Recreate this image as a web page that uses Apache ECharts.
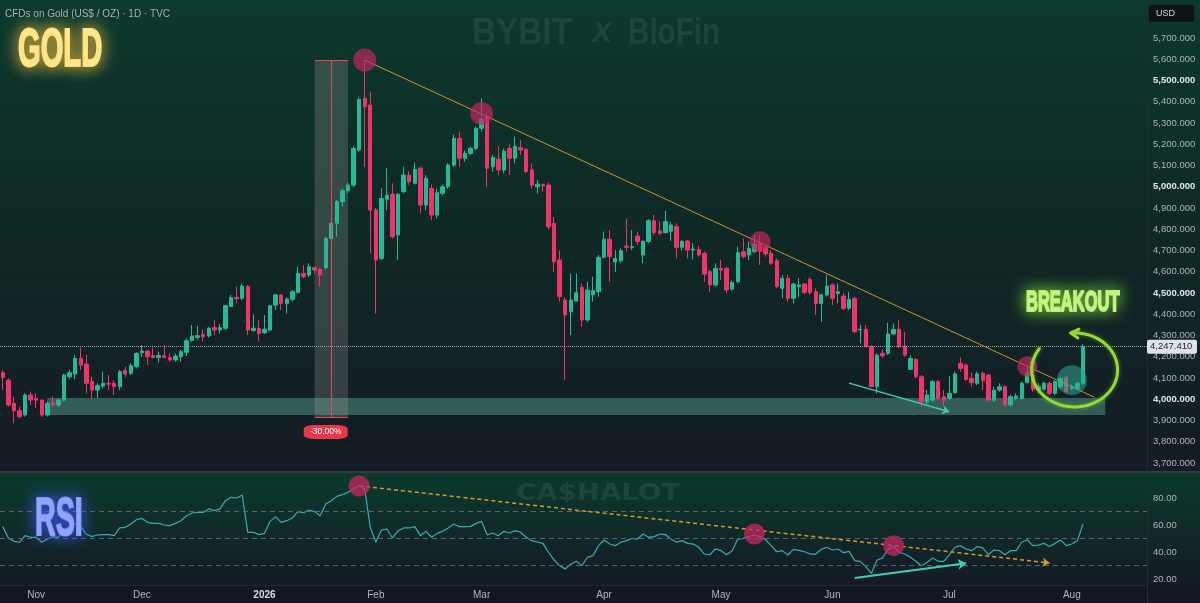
<!DOCTYPE html>
<html><head><meta charset="utf-8">
<script src="https://cdn.jsdelivr.net/npm/echarts@6/dist/echarts.min.js"></script>
<style>html,body{margin:0;padding:0;background:#131722;overflow:hidden}#c{width:1200px;height:603px}</style>
</head><body><div id="c"></div>
<script>
// ---- trading calendar (categories) ----
const holidays = ['2025-11-27','2025-12-25','2026-01-01','2026-01-19','2026-02-16','2026-04-03','2026-05-25','2026-06-19','2026-07-03'];
const startDate = '2025-10-24';
const categoryCount = 206;
const monthNames = ['Jan','Feb','Mar','Apr','May','Jun','Jul','Aug','Sep','Oct','Nov','Dec'];

// ---- OHLC (USD/oz), one value per trading day ----
const openP = [4125,4090,3981,3946,3926,4020,4004,3996,3926,3984,
3973,3996,4106,4119,4193,4166,4083,4043,4062,4075,
4075,4059,4135,4122,4153,4219,4227,4205,4196,4205,
4197,4185,4200,4221,4276,4291,4305,4298,4337,4326,
4334,4436,4479,4475,4530,4323,4334,4313,4326,4443,
4491,4451,4470,4503,4592,4585,4619,4611,4620,4757,
4828,4930,4981,5008,5173,5416,5385,4891,4663,4941,
4965,4773,4977,5055,5016,5087,4914,4992,4867,4969,
5000,5102,5228,5134,5157,5180,5275,5330,5094,5130,
5079,5180,5134,5184,5176,5079,5000,5010,5008,4828,
4655,4467,4412,4462,4527,4373,4491,4506,4668,4753,
4647,4652,4721,4715,4768,4679,4742,4840,4792,4784,
4790,4812,4715,4745,4702,4705,4687,4600,4538,4616,
4616,4519,4553,4694,4679,4695,4734,4713,4687,4652,
4522,4569,4475,4530,4542,4564,4506,4451,4491,4538,
4498,4486,4428,4475,4326,4329,4247,4059,4216,4216,
4307,4329,4250,4141,4188,4106,3988,3996,4083,4012,
4004,4031,4169,4161,4098,4075,4122,4114,3996,4043,
4059,3973,4004,4004,4078,4114,4043,4047,4075,4028,
4059,4101,4051,4051,4075];
const closeP = [4103,3973,3946,3918,4020,3996,3996,3926,3981,3973,
3996,4114,4125,4193,4161,4075,4043,4064,4075,4071,
4059,4130,4119,4158,4216,4227,4200,4196,4206,4196,
4185,4203,4224,4276,4298,4299,4294,4334,4326,4337,
4440,4479,4473,4533,4326,4334,4310,4329,4440,4491,
4451,4472,4506,4593,4577,4624,4608,4585,4757,4828,
4930,4981,5008,5180,5411,5377,4891,4655,4945,4961,
4765,4965,5055,5024,5082,4914,5040,4867,4972,5000,
5102,5228,5134,5157,5180,5275,5319,5087,5138,5079,
5168,5134,5190,5173,5071,5008,5012,5004,4812,4647,
4483,4397,4467,4501,4373,4514,4511,4668,4753,4671,
4663,4699,4715,4718,4742,4742,4840,4784,4781,4836,
4820,4715,4742,4702,4707,4679,4589,4538,4616,4608,
4514,4550,4690,4671,4710,4730,4695,4684,4640,4530,
4569,4475,4542,4538,4502,4502,4451,4491,4533,4475,
4506,4428,4470,4318,4329,4247,4059,4208,4204,4307,
4329,4247,4208,4192,4106,3988,4020,4083,4004,3996,
4028,4119,4145,4094,4078,4119,4087,3996,4043,4059,
3973,4012,4015,4075,4125,4047,4059,4075,4028,4083,
4098,4036,4059,4075,4247.41];
const lowP = [4043,3965,3887,3910,3918,3973,3957,3918,3918,3965,
3965,3990,4094,4094,4138,4028,4004,4004,4051,4043,
4020,4043,4106,4114,4145,4200,4161,4193,4172,4193,
4177,4177,4177,4203,4271,4279,4271,4290,4302,4310,
4326,4436,4451,4467,4302,4318,4271,4307,4318,4420,
4420,4404,4460,4498,4569,4575,4592,4530,4610,4741,
4765,4906,4970,4998,5165,5094,4686,4404,4655,4890,
4757,4655,4969,5010,5012,4875,4890,4842,4851,4960,
4990,5094,5094,5118,5150,5170,5260,5000,5070,5055,
5063,5055,5110,5150,5063,4993,4969,4977,4800,4600,
4460,4090,4302,4459,4342,4365,4459,4483,4663,4553,
4600,4640,4695,4702,4726,4640,4735,4773,4773,4781,
4745,4663,4700,4663,4658,4671,4553,4506,4530,4561,
4498,4510,4545,4663,4655,4687,4632,4671,4632,4522,
4475,4459,4451,4483,4495,4491,4397,4365,4483,4443,
4451,4420,4420,4310,4263,4247,4059,4028,4192,4208,
4302,4240,4200,4138,4098,3965,3973,3988,3996,3965,
3996,4028,4130,4087,4059,4067,4043,3988,3988,4036,
3965,3965,3996,3999,4075,4036,4028,4040,4020,4020,
4050,4028,4043,4043,4067];
const highP = [4138,4098,4012,3965,4028,4036,4028,4000,3990,4015,
4004,4120,4138,4208,4243,4208,4106,4075,4130,4114,
4090,4138,4153,4169,4222,4255,4232,4243,4224,4255,
4216,4216,4232,4287,4349,4345,4329,4340,4373,4354,
4445,4491,4530,4545,4538,4400,4373,4396,4445,4495,
4495,4480,4515,4624,4632,4640,4624,4616,4765,4843,
4938,4993,5020,5190,5420,5596,5447,4900,4993,5087,
5016,4969,5094,5073,5113,5094,5055,5010,4990,5010,
5110,5245,5260,5170,5190,5283,5416,5350,5150,5190,
5180,5200,5236,5220,5180,5110,5032,5016,5020,4859,
4700,4480,4592,4592,4545,4553,4577,4679,4789,4796,
4702,4710,4851,4796,4789,4749,4848,4867,4836,4887,
4835,4828,4750,4750,4734,4721,4695,4608,4640,4655,
4624,4560,4718,4757,4742,4773,4773,4726,4702,4663,
4585,4585,4549,4569,4545,4574,4522,4498,4585,4545,
4545,4500,4506,4483,4349,4349,4255,4216,4235,4360,
4357,4373,4318,4208,4192,4114,4043,4090,4090,4043,
4110,4130,4197,4169,4125,4130,4130,4119,4059,4075,
4067,4020,4028,4083,4153,4122,4075,4083,4083,4090,
4106,4110,4070,4083,4260];

// ---- RSI (14) ----
const rsiValues = [58.8,50.4,47.9,47.2,52.1,50.9,50.9,47.2,49.6,51.4,
50.9,57,58.3,60.7,58.8,53.3,51.4,52.6,52.9,52.9,
52.1,57.8,58.3,60.7,63.9,64.9,62,61.2,61.2,60,
59.5,61.2,63.2,66.9,68.9,69.4,69.4,71.9,70.6,71.9,
78,80.5,80,82.2,54.6,54.6,52.9,53.8,62.7,66.2,
62,63.2,65.2,69.9,69.1,71.1,69.9,66.9,75.6,78,
81.2,82.5,84.2,86.7,89.1,86.7,58.3,47.2,56.3,57,
50.4,55.8,57.8,57.8,58.8,52.1,55.3,50.9,53.8,55.3,
57.8,60.7,58.8,58.8,59,61.2,62.7,52.6,54.1,52.1,
55.3,54.1,55.8,54.6,50.9,48.4,47.4,46.4,39.8,34.1,
29.9,27.4,31.1,33.1,29.9,36.1,37.3,44.7,48.9,45.9,
44.7,47.2,48.4,50.1,49.6,53.3,50.9,51.4,53.3,52.9,
49.6,47.2,48.4,46.4,45.9,43.5,38.5,38,42.2,41,
38,41,49.6,50.1,51.6,52.6,51.4,49.1,44.7,40.2,
41,37.8,42,41.2,40.2,38.5,38.5,42,43.5,41.5,
42.2,39.5,40.5,33.6,33.1,29.1,24.2,34.1,35.6,42.2,
44,39.8,38.5,36.1,33.1,29.6,32.4,35.6,33.1,33.1,
37.8,43.5,44.7,42.2,41,44,43,38,41.5,41,
38,41,41,47.2,49.1,44.7,45.2,46.4,44,46.4,
48.9,44.7,45.9,48.4,60.7];
const rsiLevels = [70, 50, 30];
const lastPrice = 4247.41;

// ---- build categories ----
function buildDates(){
  const out = []; const d = new Date(startDate + 'T00:00:00Z');
  while(out.length < categoryCount){
    const wd = d.getUTCDay(); const s = d.toISOString().slice(0,10);
    if(wd !== 0 && wd !== 6 && holidays.indexOf(s) < 0) out.push(s);
    d.setUTCDate(d.getUTCDate()+1);
  }
  return out;
}
const dates = buildDates();
const candles = openP.map((o,i)=>[o, closeP[i], lowP[i], highP[i]]);
function isMonthStart(i){ return i>0 && dates[i].slice(5,7)!==dates[i-1].slice(5,7); }
function fmtPrice(v){ return v.toLocaleString('en-US',{minimumFractionDigits:3,maximumFractionDigits:3}); }

const UP='#26b897', DOWN='#ee3469';
const PINK='rgba(200,38,98,0.66)';
const FONT='Liberation Sans, Arial, sans-serif';

const chart = echarts.init(document.getElementById('c'), null, {renderer:'canvas'});
const option = {
  animation:false,
  backgroundColor:'#131722',
  grid:[
    {left:0,right:53,top:6.125,height:467.5},
    {left:0,right:53,top:471,height:121.5},
    {left:0,right:53,top:584,height:1}
  ],
  xAxis:[
    {type:'category',gridIndex:0,data:dates,boundaryGap:true,axisLine:{show:false},axisTick:{show:false},axisLabel:{show:false},splitLine:{show:false}},
    {type:'category',gridIndex:1,data:dates,boundaryGap:true,axisLine:{show:false},axisTick:{show:false},axisLabel:{show:false},splitLine:{show:false}},
    {type:'category',gridIndex:2,data:dates,boundaryGap:true,axisLine:{show:false},axisTick:{show:false},splitLine:{show:false},
      axisLabel:{show:true,interval:(i)=>isMonthStart(i),margin:5,fontSize:10,color:'#b2b5be',fontFamily:FONT,hideOverlap:false,
        formatter:(v)=>{const m=+v.slice(5,7)-1; return m===0?'{y|'+v.slice(0,4)+'}':monthNames[m];},
        rich:{y:{fontWeight:'bold',color:'#d8dbe2',fontSize:10,fontFamily:FONT}}}}
  ],
  yAxis:[
    {type:'value',gridIndex:0,position:'right',min:3650,max:5850,interval:50,scale:false,
      axisLine:{show:false},axisTick:{show:false},splitLine:{show:false},
      axisLabel:{margin:6,fontSize:9.5,color:'#aeb2bc',fontFamily:FONT,
        formatter:(v)=>{ if(v%100!==0||v<3700||v>5700) return ''; return v%500===0?'{b|'+fmtPrice(v)+'}':fmtPrice(v);},
        rich:{b:{fontWeight:'bold',color:'#e3e6ec',fontSize:9.5,fontFamily:FONT}}}},
    {type:'value',gridIndex:1,position:'right',min:10,max:100,interval:10,
      axisLine:{show:false},axisTick:{show:false},splitLine:{show:false},
      axisLabel:{margin:6,fontSize:9.5,color:'#aeb2bc',fontFamily:FONT,
        formatter:(v)=>(v%20===0&&v>=20&&v<=80)?v.toFixed(2):''}},
    {type:'value',gridIndex:2,show:false}
  ],
  series:[
    {type:'candlestick',xAxisIndex:0,yAxisIndex:0,data:candles,barWidth:'70%',
      itemStyle:{color:UP,color0:DOWN,borderColor:UP,borderColor0:DOWN,borderWidth:1},
      markArea:{silent:true,data:[
        [{xAxis:dates[8],yAxis:4006,itemStyle:{color:'rgba(98,178,158,0.42)'}},{xAxis:dates[198],yAxis:3926}],
        [{xAxis:dates[56],yAxis:5596,itemStyle:{color:'rgba(170,170,170,0.24)'}},{xAxis:dates[62],yAxis:3916}]
      ]},
      markLine:{silent:true,symbol:['none','none'],label:{show:false},animation:false,data:[
        {yAxis:lastPrice,lineStyle:{type:'dotted',color:'#9aa0aa',width:1}},
        [{coord:[dates[65],5596],lineStyle:{color:'#c9962c',width:1,type:'solid'}},{coord:[dates[196],4010],lineStyle:{color:'#c9962c',width:1,type:'solid'}}],
        [{coord:[dates[59],5596],lineStyle:{color:'#f0405a',width:1,type:'solid'}},{coord:[dates[59],3916]}],
        [{coord:[dates[56],5596],lineStyle:{color:'#f0405a',width:1,type:'solid'}},{coord:[dates[62],5596]}],
        [{coord:[dates[56],3916],lineStyle:{color:'#f0405a',width:1,type:'solid'}},{coord:[dates[62],3916]}],
        [{coord:[dates[152],4076],symbol:'none',lineStyle:{color:'#3fc9b0',width:1.5,type:'solid'}},{coord:[dates[170],3941],symbol:'arrow',symbolSize:7}]
      ]},
      markPoint:{silent:true,label:{show:false},data:[
        {coord:[dates[65],5596],symbol:'circle',symbolSize:23,itemStyle:{color:PINK}},
        {coord:[dates[86],5345],symbol:'circle',symbolSize:23,itemStyle:{color:PINK}},
        {coord:[dates[136],4742],symbol:'circle',symbolSize:21,itemStyle:{color:PINK}},
        {coord:[dates[184],4155],symbol:'circle',symbolSize:20,itemStyle:{color:PINK}},
        {coord:[dates[192],4090],symbol:'circle',symbolSize:30,itemStyle:{color:'rgba(48,168,148,0.55)'}},
        {coord:[dates[58],3846],symbol:'roundRect',symbolSize:[44,14],itemStyle:{color:'#e8364a'},
          label:{show:true,position:'inside',formatter:'-30.00%',color:'#ffffff',fontSize:8.5,fontFamily:FONT}}
      ]}
    },
    {type:'line',xAxisIndex:1,yAxisIndex:1,data:rsiValues,symbol:'none',lineStyle:{color:'#3aaab5',width:1.2},
      markLine:{silent:true,symbol:['none','none'],label:{show:false},data:[
        ...rsiLevels.map(v=>({yAxis:v,lineStyle:{type:[5,4],color:'#5d626c',width:1}})),
        [{coord:[dates[64],89],symbol:'none',lineStyle:{type:[4,3],color:'#cf9a30',width:1.5}},{coord:[dates[188],31.9],symbol:'arrow',symbolSize:7}],
        [{coord:[dates[153],20.7],symbol:'none',lineStyle:{type:'solid',color:'#3fcfb2',width:2}},{coord:[dates[173],31.6],symbol:'arrow',symbolSize:8}]
      ]},
      markPoint:{silent:true,label:{show:false},data:[
        {coord:[dates[64],88.9],symbol:'circle',symbolSize:21,itemStyle:{color:'rgba(200,38,98,0.74)'}},
        {coord:[dates[135],53.3],symbol:'circle',symbolSize:21,itemStyle:{color:'rgba(200,38,98,0.74)'}},
        {coord:[dates[160],44.7],symbol:'circle',symbolSize:21,itemStyle:{color:'rgba(200,38,98,0.74)'}}
      ]}
    },
    {type:'line',xAxisIndex:2,yAxisIndex:2,data:[],silent:true}
  ]
};
chart.setOption(option);

// ---- annotations placed from data coordinates ----
const pA = chart.convertToPixel({xAxisIndex:0,yAxisIndex:0},[dates[192],4138]);
const pB = chart.convertToPixel({xAxisIndex:0,yAxisIndex:0},[dates[193],4138]);
const cx = (pA[0]+pB[0])/2, cy = pA[1];
const rx = 43, ry = 37;
const ell = [];
for(let a=-95; a<=215; a+=5){ const t=a*Math.PI/180; ell.push([cx+rx*Math.cos(t), cy+ry*Math.sin(t)]); }
const tip = ell[0];
const yLast = chart.convertToPixel({yAxisIndex:0}, lastPrice);

function glowText(txt,x,y,size,fill,glow,sx){
  return {type:'text',x:x,y:y,scaleX:sx,z:100,silent:true,
    style:{text:txt,fill:fill,stroke:fill,lineWidth:2.2,font:'bold '+size+'px '+FONT,textVerticalAlign:'middle',textAlign:'left',
      textShadowColor:glow,textShadowBlur:16}};
}

chart.setOption({graphic:[
  // pane backgrounds
  {type:'rect',z:-10,silent:true,shape:{x:0,y:0,width:1200,height:472},
    style:{fill:new echarts.graphic.LinearGradient(0,0,0,1,[{offset:0,color:'#0c392e'},{offset:0.45,color:'#0f2a26'},{offset:1,color:'#141b24'}])}},
  {type:'rect',z:-10,silent:true,shape:{x:0,y:473,width:1200,height:112},
    style:{fill:new echarts.graphic.LinearGradient(0,0,0,1,[{offset:0,color:'#0a3b2d'},{offset:1,color:'#151a24'}])}},
  {type:'rect',z:-10,silent:true,shape:{x:0,y:585,width:1200,height:18},style:{fill:'#131722'}},
  {type:'rect',z:-9,silent:true,shape:{x:0,y:471,width:1200,height:2},style:{fill:'#363a45'}},
  {type:'rect',z:-9,silent:true,shape:{x:0,y:585,width:1147,height:1},style:{fill:'#22262f'}},
  {type:'rect',z:-9,silent:true,shape:{x:1147,y:0,width:1,height:603},style:{fill:'#262a34'}},
  // watermarks
  {type:'text',z:-5,silent:true,x:472,y:34,scaleX:0.9,style:{text:'BYBIT',fill:'rgba(200,230,220,0.085)',font:'bold 37px '+FONT,textVerticalAlign:'middle'}},
  {type:'text',z:-5,silent:true,x:592,y:34,style:{text:'X',fill:'rgba(200,230,220,0.085)',font:'italic bold 30px '+FONT,textVerticalAlign:'middle'}},
  {type:'text',z:-5,silent:true,x:628,y:34,scaleX:0.8,style:{text:'BloFin',fill:'rgba(200,230,220,0.085)',font:'bold 37px '+FONT,textVerticalAlign:'middle'}},
  {type:'text',z:-5,silent:true,x:516,y:494,scaleX:1.2,style:{text:'CA$HALOT',fill:'rgba(200,230,220,0.09)',font:'bold 23px DejaVu Sans, sans-serif',textVerticalAlign:'middle'}},
  // header
  {type:'text',z:100,silent:true,x:5,y:14,style:{text:'CFDs on Gold (US$ / OZ) · 1D · TVC',fill:'#aab0bb',font:'10px '+FONT,textVerticalAlign:'middle'}},
  {type:'rect',z:100,silent:true,shape:{x:1149,y:5,width:45,height:17,r:2},style:{fill:'#101216'}},
  {type:'text',z:101,silent:true,x:1156,y:13.5,style:{text:'USD',fill:'#d1d4dc',font:'9px '+FONT,textVerticalAlign:'middle'}},
  // big labels
  glowText('GOLD',18,51,54,'#ffe58c','#ffc53a',0.54),
  glowText('RSI',35,520,53,'#93a4ff','#3d5cff',0.54),
  glowText('BREAKOUT',1026,303,30,'#c8f285','#86e03a',0.55),
  // breakout ellipse with arrow
  {type:'polyline',z:100,silent:true,shape:{points:ell},style:{stroke:'#95dc2c',lineWidth:3,fill:null,lineCap:'round',shadowColor:'rgba(140,220,50,0.5)',shadowBlur:4}},
  {type:'polyline',z:100,silent:true,shape:{points:[[tip[0]+8,tip[1]-4],tip,[tip[0]+7,tip[1]+5]]},style:{stroke:'#95dc2c',lineWidth:3,fill:null,lineCap:'round',lineJoin:'round'}},
  // last price tag
  {type:'rect',z:100,silent:true,shape:{x:1147,y:yLast-7,width:50,height:14,r:2},style:{fill:'#dfe2e8'}},
  {type:'text',z:101,silent:true,x:1150,y:yLast,style:{text:fmtPrice(lastPrice),fill:'#1c2030',font:'9.5px '+FONT,textVerticalAlign:'middle'}}
]});
</script>
</body></html>
